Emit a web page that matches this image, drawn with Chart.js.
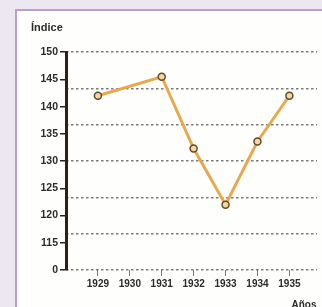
<!DOCTYPE html>
<html>
<head>
<meta charset="utf-8">
<script src="https://cdn.jsdelivr.net/npm/chart.js@4"></script>
<style>
  html, body { margin:0; padding:0; }
  body { width:322px; height:307px; overflow:hidden; background:#ece7f0; position:relative; }
  #panel { position:absolute; left:15px; top:9px; width:320px; height:310px; border-left:2px solid #b99dcc; border-top:2px solid #b99dcc; background:#fefefc; }
  #wrap { position:absolute; left:0; top:0; width:305px; height:300px; }
</style>
</head>
<body>
<div id="panel"><div id="wrap"><canvas id="c"></canvas></div></div>
<script>
const years = [1929, 1930, 1931, 1932, 1933, 1934, 1935];
const indexValues = [142, null, 145.5, 132.3, 122, 133.6, 142];
const yTicks = [110, 115, 120, 125, 130, 135, 140, 145, 150];
const yTickLabels = ['0', '115', '120', '125', '130', '135', '140', '145', '150'];
const titleText = 'Índice';
const xTitleText = 'Años';

const points = years.map((y, i) => ({ x: y, y: indexValues[i] }));

new Chart(document.getElementById('c'), {
  type: 'line',
  data: {
    datasets: [{
      data: points,
      spanGaps: true,
      borderColor: '#eaa84e',
      borderWidth: 3,
      pointRadius: 3.5,
      pointBorderWidth: 1.5,
      pointBorderColor: '#5e4b2c',
      pointBackgroundColor: '#f2d7a4',
      tension: 0
    }]
  },
  options: {
    responsive: true,
    maintainAspectRatio: false,
    animation: false,
    layout: { padding: { left: 14, right: 0, top: 0, bottom: 0 } },
    plugins: {
      legend: { display: false },
      tooltip: { enabled: false },
      title: {
        display: true, text: titleText, align: 'start',
        color: '#2b2b2b',
        font: { family: 'Liberation Sans', size: 11, weight: 'bold' },
        padding: { top: 10, bottom: 18 }
      }
    },
    scales: {
      x: {
        type: 'linear', min: 1928, max: 1935.85,
        afterBuildTicks: s => { s.ticks = years.map(v => ({ value: v })); },
        afterFit: s => { s.height = 41; },
        border: { display: false },
        grid: { drawOnChartArea: false, drawTicks: true, tickLength: 6, color: '#777', lineWidth: 1 },
        ticks: {
          color: '#2b2b2b', padding: 2,
          font: { family: 'Liberation Sans', size: 10, weight: 'bold' },
          callback: v => String(v)
        },
        title: {
          display: true, text: xTitleText, align: 'end', color: '#2b2b2b',
          font: { family: 'Liberation Sans', size: 10, weight: 'bold' },
          padding: { top: 2, bottom: 0 }
        }
      },
      y: {
        type: 'linear', min: 110, max: 150, position: 'left',
        afterBuildTicks: s => { s.ticks = yTicks.map(v => ({ value: v })); },
        afterFit: s => { s.width = 35; },
        border: { display: true, color: '#2a211c', width: 3 },
        grid: { drawOnChartArea: false, drawTicks: true, tickLength: 6, color: '#2a211c', lineWidth: 1.5 },
        ticks: {
          color: '#2b2b2b', padding: 2,
          font: { family: 'Liberation Sans', size: 10.5, weight: 'bold' },
          callback: v => yTickLabels[yTicks.indexOf(v)]
        }
      },
      g: {
        type: 'linear', min: 0, max: 6, position: 'right',
        afterBuildTicks: s => { s.ticks = [0,1,2,3,4,5,6].map(v => ({ value: v })); },
        afterFit: s => { s.width = 0; },
        border: { display: false, dash: [2.5, 2.5] },
        grid: { drawTicks: false, color: '#7a7a7a', lineWidth: 1.5 },
        ticks: { display: false }
      }
    }
  }
});
</script>
</body>
</html>
